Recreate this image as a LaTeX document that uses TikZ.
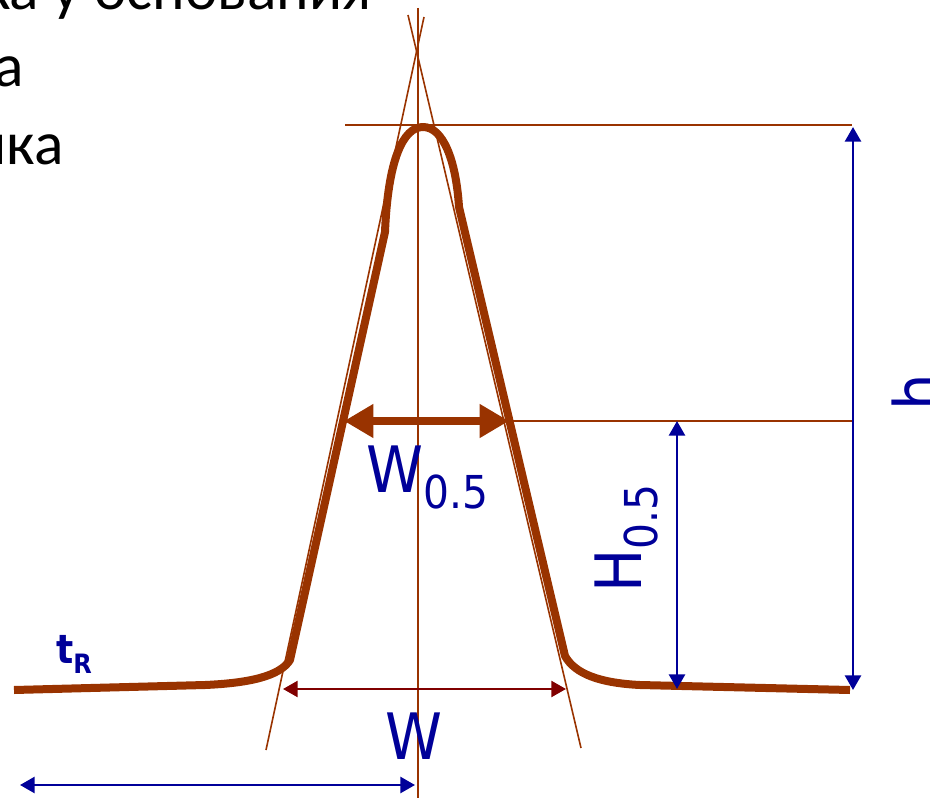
\documentclass[tikz,border=0pt]{standalone}
\usepackage{fontspec}
\setmainfont{Carlito}
\newfontfamily\lab[FakeStretch=0.9]{DejaVu Sans}
\usetikzlibrary{arrows.meta}
\definecolor{peak}{RGB}{153,51,0}
\definecolor{dimblue}{RGB}{0,0,153}
\definecolor{dimred}{RGB}{128,0,0}
\tikzset{
  thinline/.style={draw=peak,line width=1.4pt},
  peakline/.style={draw=peak,line width=6pt,line join=round},
  bluedim/.style={draw=dimblue,line width=2pt,arrows={Triangle[length=11pt,width=12pt]-Triangle[length=11pt,width=12pt]}},
  reddim/.style={draw=dimred,line width=1.8pt,arrows={Triangle[length=11pt,width=12pt]-Triangle[length=11pt,width=12pt]}},
  halfdim/.style={draw=peak,line width=6pt,arrows={Triangle[length=22pt,width=24pt]-Triangle[length=22pt,width=24pt]}},
  biglab/.style={inner sep=0pt,text=dimblue,font=\lab\fontsize{48}{48}\selectfont},
  toptext/.style={inner sep=0pt,anchor=base east,font=\fontsize{46}{46}\selectfont}
}
\begin{document}
\begin{tikzpicture}[x=0.75pt,y=-0.75pt]
\useasboundingbox (0,0) rectangle (930,798);
% guide lines
\coordinate (vt) at (418,8);
\coordinate (vb) at (418,798);
\draw[thinline] (vt) -- (vb);
\coordinate (lt1) at (424,17);
\coordinate (lt2) at (266,750);
\draw[thinline,line width=1.2pt] (lt1) -- (lt2);
\coordinate (rt1) at (408,15);
\coordinate (rt2) at (581,748);
\draw[thinline,line width=1.2pt] (rt1) -- (rt2);
\coordinate (ht1) at (345,125);
\coordinate (ht2) at (852,125);
\draw[thinline] (ht1) -- (ht2);
\coordinate (hh1) at (508,421);
\coordinate (hh2) at (852,421);
\draw[thinline] (hh1) -- (hh2);
% peak
\draw[peakline] (14,690) -- (205,685) .. controls (250,683) and (280,676) .. (290,660)
  -- (385,232) .. controls (388,160) and (403,127) .. (423,127)
  .. controls (443,127) and (456,160) .. (459,207)
  -- (565,656) .. controls (575,674) and (600,683) .. (640,685) -- (850,690);
% dimension arrows
\coordinate (w5a) at (344,421);
\coordinate (w5b) at (509,421);
\draw[halfdim] (w5a) -- (w5b);
\coordinate (wa) at (283,689);
\coordinate (wb) at (566,689);
\draw[reddim] (wa) -- (wb);
\coordinate (ba) at (20,785);
\coordinate (bb) at (415,785);
\draw[bluedim] (ba) -- (bb);
\coordinate (hta) at (853,127);
\coordinate (htb) at (853,690);
\draw[bluedim] (hta) -- (htb);
\coordinate (h5a) at (677,421);
\coordinate (h5b) at (677,689);
\draw[bluedim] (h5a) -- (h5b);
% labels
\node[biglab,anchor=base west] (lw5) at (366,492) {W\raisebox{-12pt}{\fontsize{34}{34}\selectfont 0.5}};
\node[biglab,anchor=base west] (lw) at (385,759) {W};
\node[biglab,anchor=base west,rotate=90] (lh5) at (641,593) {H\raisebox{-12pt}{\fontsize{34}{34}\selectfont 0.5}};
\node[biglab,anchor=base west,rotate=90] (lh) at (940,411) {h};
\node[inner sep=0pt,anchor=base west,text=dimblue,font=\lab\bfseries\fontsize{30}{30}\selectfont] (ltr) at (56,663) {t\raisebox{-7.5pt}{\fontsize{20}{20}\selectfont R}};
% cut-off text at top left
\node[toptext] (tx1) at (372,10) {ка у основания};
\node[toptext] (tx2) at (24,87) {а};
\node[toptext] (tx3) at (64,165) {ика};
\end{tikzpicture}
\end{document}
